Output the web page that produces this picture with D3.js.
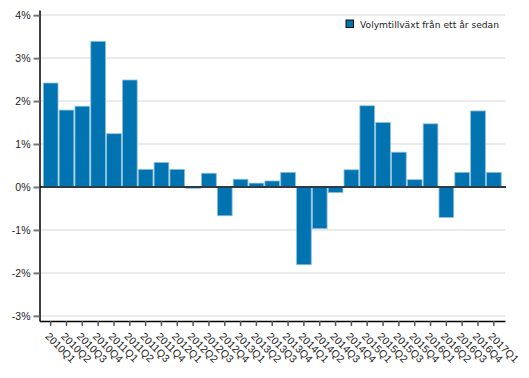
<!DOCTYPE html>
<html><head><meta charset="utf-8">
<script src="https://cdn.jsdelivr.net/npm/d3@7"></script>
<style>
body{margin:0;background:#fff;}
svg{display:block;font-family:"Liberation Sans",Arial,sans-serif;}
</style></head>
<body>
<svg id="c" width="529" height="378"></svg>
<script>
const categories = ["2010Q1","2010Q2","2010Q3","2010Q4","2011Q1","2011Q2","2011Q3","2011Q4",
"2012Q1","2012Q2","2012Q3","2012Q4","2013Q1","2013Q2","2013Q3","2013Q4",
"2014Q1","2014Q2","2014Q3","2014Q4","2015Q1","2015Q2","2015Q3","2015Q4",
"2016Q1","2016Q2","2016Q3","2016Q4","2017Q1"];
const values = [2.42,1.79,1.88,3.39,1.24,2.49,0.41,0.57,
0.41,-0.03,0.32,-0.67,0.18,0.09,0.14,0.34,
-1.81,-0.97,-0.13,0.40,1.89,1.50,0.81,0.17,
1.47,-0.71,0.34,1.77,0.34];
const yTicks = [-3,-2,-1,0,1,2,3,4];
const seriesName = "Volymtillväxt från ett år sedan";

const svg = d3.select("#c");
const mLeft = 39.5, mRight = 505, mTop = 10, mBottom = 321;

const x = d3.scaleBand().domain(categories).range([mLeft, mRight]).paddingInner(0.07).paddingOuter(0.24);
const y = d3.scaleLinear().domain([-3.12, 4.12]).range([mBottom, mTop]);

// gridlines
svg.append("g").selectAll("line").data(yTicks).join("line")
  .attr("x1", mLeft).attr("x2", mRight)
  .attr("y1", d => Math.round(y(d))).attr("y2", d => Math.round(y(d)))
  .attr("stroke", "#ebebeb").attr("stroke-width", 2);

// bars
svg.append("g").selectAll("rect").data(values).join("rect")
  .attr("x", (d,i) => x(categories[i]))
  .attr("width", x.bandwidth())
  .attr("y", d => y(Math.max(0, d)))
  .attr("height", d => Math.abs(y(d) - y(0)))
  .attr("fill", "#0073b0")
  .attr("stroke", "#8cc0de").attr("stroke-width", 0.8);

// zero line
svg.append("line").attr("x1", mLeft).attr("x2", mRight+1)
  .attr("y1", y(0)).attr("y2", y(0))
  .attr("stroke", "#2e3b45").attr("stroke-width", 2);

// y axis
const yAxis = svg.append("g").attr("transform", `translate(${mLeft},0)`)
  .call(d3.axisLeft(y).tickValues(yTicks).tickFormat(d => d + "%").tickSize(6).tickPadding(3).tickSizeOuter(0));
yAxis.select(".domain").attr("stroke", "#000").attr("stroke-width", 1.5);
yAxis.selectAll(".tick line").attr("stroke", "#777").attr("stroke-width", 2);
yAxis.selectAll(".tick text").attr("font-size", 10.5).attr("fill", "#222")
  .attr("font-family", "'Liberation Sans',Arial,sans-serif");

// x axis
const xAxis = svg.append("g").attr("transform", `translate(0,${mBottom})`)
  .call(d3.axisBottom(x).tickSize(5).tickSizeOuter(0));
xAxis.select(".domain").attr("stroke", "#000").attr("stroke-width", 1.5);
xAxis.selectAll(".tick line").attr("stroke", "#555").attr("stroke-width", 1.5);
xAxis.selectAll(".tick text")
  .attr("x", 0).attr("y", 0).attr("dy", 0)
  .attr("text-anchor", "start")
  .attr("transform", "translate(-6,16) rotate(45)")
  .attr("font-size", 10.5).attr("fill", "#222")
  .attr("font-family", "'Liberation Sans',Arial,sans-serif");

// legend
const lg = svg.append("g");
lg.append("rect").attr("x", 346).attr("y", 20).attr("width", 7.5).attr("height", 7.5)
  .attr("fill", "#0073b0").attr("stroke", "#111").attr("stroke-width", 1);
lg.append("text").attr("x", 360).attr("y", 27.5)
  .attr("font-family", "'DejaVu Sans',Verdana,sans-serif").attr("font-size", 9.5)
  .attr("fill", "#222")
  .attr("textLength", 139).attr("lengthAdjust", "spacingAndGlyphs")
  .text(seriesName);
</script>
</body></html>
